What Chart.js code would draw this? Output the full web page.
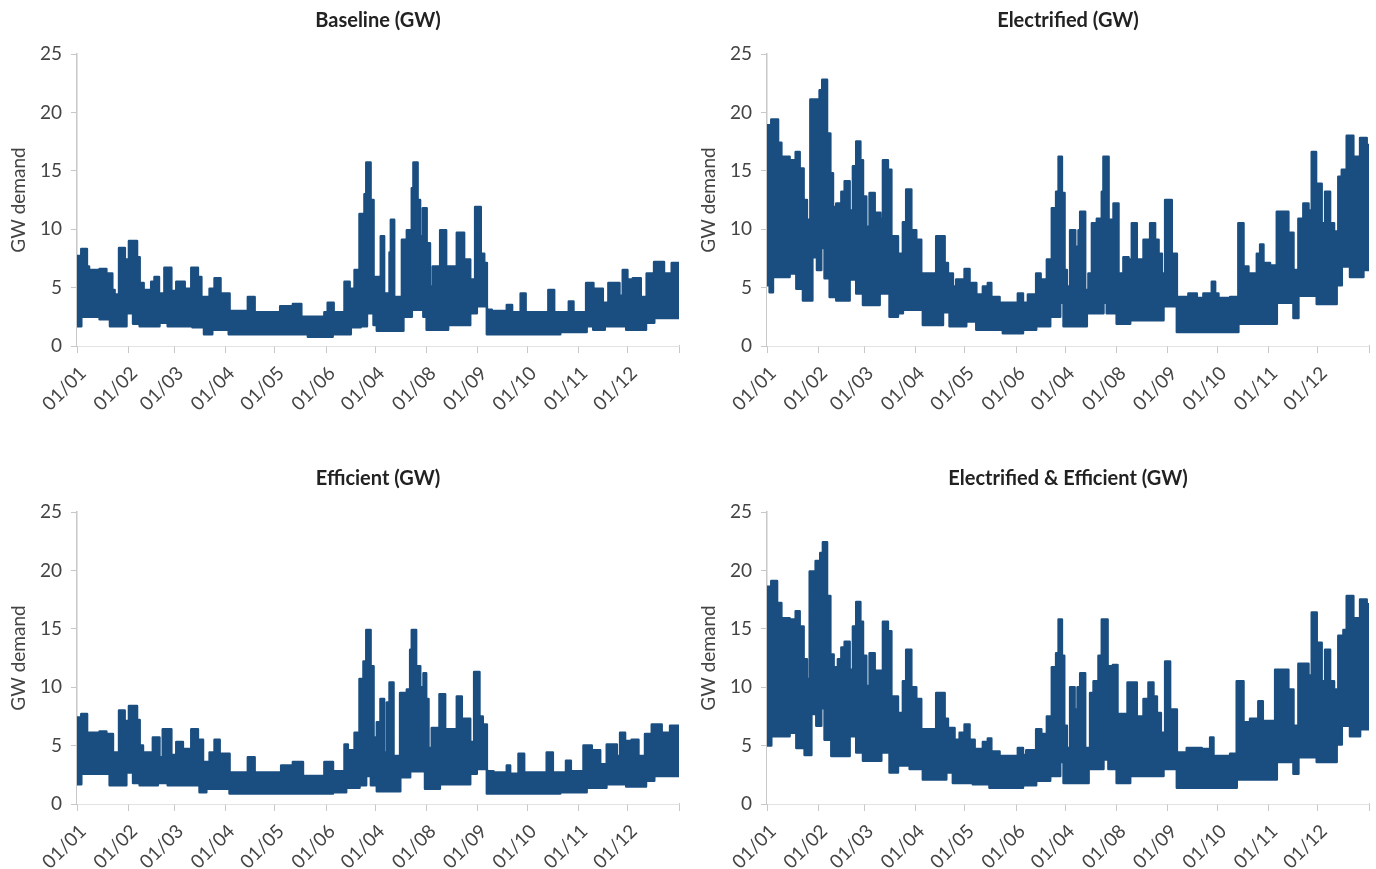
<!DOCTYPE html>
<html>
<head>
<meta charset="utf-8">
<script src="https://cdn.jsdelivr.net/npm/chart.js@4.4.1/dist/chart.umd.min.js"></script>
<style>
  body { margin: 0; background: #fff; width: 1376px; height: 869px; position: relative; overflow: hidden; }
  .panel { position: absolute; width: 688px; height: 426px; }
</style>
</head>
<body>
<div class="panel" style="left:0;top:0"><canvas id="baseline" width="688" height="426"></canvas></div>
<div class="panel" style="left:690px;top:0"><canvas id="electrified" width="688" height="426"></canvas></div>
<div class="panel" style="left:0;top:458px"><canvas id="efficient" width="688" height="426"></canvas></div>
<div class="panel" style="left:690px;top:458px"><canvas id="elecEff" width="688" height="426"></canvas></div>
<script>
// day of year where each month starts, and the labels printed under them
const monthStarts = [0, 31, 59, 90, 120, 151, 181, 212, 243, 273, 304, 334, 365];
const monthLabels = ['01/01', '01/02', '01/03', '01/04', '01/05', '01/06', '01/04', '01/08', '01/09', '01/10', '01/11', '01/12', ''];

// hourly demand shown as its daily high / low envelope: [day, GW]
// each value holds from its day until the next entry
const baselineHigh = [[0,7.7],[1.6,6.8],[2.6,8.3],[6,6.8],[7.3,6.5],[13.7,6.6],[17.8,6.2],[21.4,4.8],[22.8,4.4],[25.5,8.4],[29,7.4],[31.5,9.0],[36.4,7.6],[38,5.4],[40.4,4.8],[45,5.5],[47,5.9],[49.7,4.5],[53,6.7],[57.2,4.7],[60.2,5.5],[65.3,4.9],[69.3,6.7],[73.3,5.9],[75.4,4.2],[80.4,4.9],[83.4,5.8],[87,4.5],[92.5,3.0],[103.6,4.2],[107.7,2.9],[123.2,3.4],[130.9,3.6],[136,2.5],[150,2.9],[152,3.7],[155.6,2.9],[162.2,5.5],[165.3,4.9],[168.3,6.5],[171.3,11.3],[174.3,13.0],[175.4,15.7],[178,12.5],[179.8,5.9],[184.2,9.4],[186.2,4.5],[189.5,8.0],[190.3,10.8],[192.3,4.2],[197,9.1],[200,9.9],[203,13.5],[204,15.7],[206.5,12.5],[208,9.4],[209.7,11.8],[212,8.8],[214,5.1],[215.7,6.8],[220.2,9.9],[223.8,6.8],[230.3,9.7],[234.7,7.4],[238.4,5.7],[241.4,11.9],[244.8,7.9],[246.9,7.1],[248.5,3.1],[251.5,3.0],[260.6,3.5],[263.8,2.9],[269,4.5],[272,2.9],[285.8,4.8],[289.3,2.9],[298.2,3.8],[301,2.9],[308.7,5.4],[313.1,4.9],[318.8,3.7],[322.2,5.4],[328.9,4.3],[330.9,6.5],[333.7,5.7],[337,5.8],[341.8,4.2],[345.4,6.2],[349.9,7.2],[355.9,6.2],[360.6,7.1],[365,7.1]];
const baselineLow = [[0,1.7],[2.6,2.5],[13.7,2.3],[20,1.7],[30,2.8],[34,1.9],[38,1.7],[50,2.0],[55,1.7],[70,1.6],[77,1.0],[82,1.4],[92,1.0],[140,0.8],[155,1.0],[166,1.6],[172,1.7],[175.8,2.8],[179.8,1.8],[181.8,1.3],[197.9,2.5],[203,3.1],[210,2.5],[212,1.4],[225,1.8],[238.4,2.8],[242.4,3.4],[248.5,1.0],[293,1.2],[309,1.7],[313,1.4],[320,1.7],[333,1.4],[345,2.0],[350,2.4],[365,2.4]];

const electrifiedHigh = [[0,18.9],[2,16.2],[2.6,19.4],[6.7,17.4],[8.7,16.2],[13.7,15.9],[17.4,16.6],[19.8,15.2],[22.2,12.5],[24.2,10.8],[26.3,21.1],[31.9,21.9],[33.5,22.8],[36.4,18.2],[38.4,14.8],[40,11.9],[42,12.2],[45.1,13.2],[47.1,14.1],[50.1,11.6],[52.1,15.4],[54.1,17.5],[56.6,15.9],[58.2,12.8],[60.2,10.2],[62.2,13.1],[65.3,11.4],[68.7,10.9],[70.3,15.9],[73.3,15.1],[75.4,9.4],[79.4,7.9],[82.4,10.6],[84.4,13.4],[87.5,9.9],[90.5,9.1],[93.5,6.2],[102.6,9.4],[107.7,7.1],[109.7,6.2],[112.7,5.1],[114.7,5.7],[119.8,6.6],[122.8,5.4],[126.9,4.4],[130.9,5.1],[133.9,5.4],[136,4.2],[141,3.7],[152.1,4.5],[155.2,3.7],[158.2,4.4],[163.2,6.2],[165.9,5.7],[169.7,7.4],[172.7,11.8],[175.3,13.2],[176.8,16.2],[178.8,13.1],[180.4,6.5],[181.8,5.1],[183.8,9.9],[186.9,8.5],[188.9,9.9],[189.9,11.5],[192.9,4.8],[194.9,6.2],[197,10.5],[200,10.9],[203,13.2],[204,16.2],[207.1,10.8],[210.1,12.2],[213.1,6.2],[216.1,7.6],[219.2,7.4],[221.2,10.5],[224.2,7.4],[228.3,9.1],[232.3,10.5],[235.3,9.1],[237.4,7.9],[239.4,6.2],[241.4,12.5],[245.4,7.9],[248.5,4.2],[255.5,4.5],[260.6,4.1],[264.6,4.5],[269.7,5.5],[271.7,4.5],[273.7,4.1],[280.8,4.2],[285.8,10.5],[288.9,6.8],[291.9,6.2],[297,7.9],[299,8.7],[301,7.1],[305,6.9],[309.1,11.5],[316.1,9.7],[319.2,6.5],[322.2,10.9],[325.2,12.2],[328.3,11.6],[330.3,16.6],[332.9,13.9],[336.3,10.5],[338.4,13.2],[341.4,10.5],[343.8,9.8],[346.4,14.5],[348.5,15.1],[351.5,18.0],[355.5,16.2],[359.6,17.8],[363.6,17.2],[365,17.2]];
const electrifiedLow = [[0,5.2],[1.6,4.6],[3.6,5.9],[13.7,6.2],[17.8,4.9],[21.8,3.9],[27.5,7.6],[30.3,6.5],[32.9,8.4],[34.9,5.8],[38,4.2],[42,3.9],[50.1,5.7],[54.1,4.5],[58.2,3.5],[68.3,4.5],[74.3,2.5],[79.4,2.8],[82.4,3.1],[94.5,1.8],[106.7,2.9],[110.7,1.7],[120.8,2.1],[126.9,1.4],[143,1.1],[155.2,1.4],[163.2,1.7],[171.7,2.5],[177.8,3.7],[179.8,1.7],[193.9,2.8],[204,3.7],[206,2.8],[212,1.9],[220.2,2.2],[240.4,3.4],[248.5,1.2],[285.8,1.9],[309.1,3.7],[319.2,2.4],[322.2,4.3],[333.3,3.6],[345.4,5.2],[348.5,6.8],[353.5,5.9],[361.6,6.5],[365,6.5]];

const efficientHigh = [[0,7.4],[1.6,6.8],[2.6,7.7],[6.1,6.1],[13.7,6.2],[17.8,6.0],[21.8,4.4],[25.5,8.0],[28.9,7.1],[31.5,8.4],[36.4,7.2],[38,5.0],[40,4.4],[46,5.7],[50,4.0],[52,6.4],[57.2,4.2],[60.2,5.3],[64.2,4.7],[69.3,6.4],[73.3,5.5],[76.4,3.6],[80.4,4.4],[83.4,5.5],[86.5,4.3],[92.5,2.7],[103.6,4.0],[107.7,2.7],[123.8,3.3],[130.9,3.6],[137,2.4],[150,3.6],[155.2,2.8],[162.2,5.1],[164.2,4.6],[168.3,6.1],[171.3,10.7],[173.7,12.2],[175.4,14.9],[178,11.8],[179.8,5.7],[181.8,7.0],[184,9.0],[186.2,4.4],[187.9,8.7],[189.5,10.4],[191.9,4.1],[195.9,9.5],[200,9.8],[202,13.2],[203,14.9],[205.6,11.8],[208.1,10.0],[210.1,11.2],[211.7,9.0],[213.1,4.8],[215.1,6.5],[219.8,9.4],[223.2,6.4],[230.3,9.2],[233.3,7.3],[238.4,5.3],[240.8,11.3],[244,7.5],[246,6.8],[248.5,2.8],[252.5,2.7],[260.6,3.3],[262.6,2.6],[267.7,4.3],[271.1,2.7],[284.8,4.4],[288.5,2.7],[296.5,3.7],[299.4,2.8],[307.1,5.0],[312.1,4.6],[317.2,3.4],[321.2,5.1],[327.3,4.1],[329.3,6.1],[332.3,5.4],[336.3,5.5],[340.4,4.1],[344.4,6.0],[348.5,6.8],[354.5,6.1],[359.6,6.7],[365,6.7]];
const efficientLow = [[0,1.7],[2.6,2.6],[19.8,1.6],[29.9,2.7],[34,1.8],[38,1.6],[49,1.8],[55,1.6],[74.3,1.0],[78.4,1.3],[92.5,0.9],[155.2,1.0],[163.2,1.4],[171.3,1.6],[175.3,2.4],[178.2,1.6],[181.8,1.1],[196,2.3],[202,2.8],[211,1.3],[220,1.7],[238.4,2.6],[242.4,3.0],[248.5,0.9],[293,1.0],[309,1.4],[321,1.7],[333,1.5],[345,2.0],[350,2.4],[365,2.4]];

const elecEffHigh = [[0,18.6],[2,16.0],[2.6,19.1],[6.1,17.2],[8.7,15.9],[13.7,15.8],[17.4,16.5],[19.8,15.2],[22.2,12.4],[24.2,10.7],[25.9,19.9],[29.5,20.8],[32.3,21.5],[33.9,22.4],[36.4,17.8],[38.4,12.8],[40.4,11.7],[43,12.4],[45.1,13.4],[47.1,13.9],[50.1,11.5],[52.1,15.2],[54.1,17.3],[56.6,15.6],[58.2,12.7],[60.2,10.1],[62.2,12.9],[65.3,11.4],[70.3,15.6],[73.3,14.8],[75.4,9.2],[79.4,7.8],[82.4,10.5],[84.4,13.2],[87.5,10.0],[90.5,9.0],[93.5,6.4],[102.6,9.5],[107.7,7.3],[109.7,6.5],[113.7,5.5],[116.8,6.1],[119.8,6.8],[122.8,5.5],[125.9,4.7],[130.9,5.3],[133.9,5.6],[136,4.5],[141,4.1],[152.1,4.8],[155.2,4.2],[157.2,4.6],[163.2,6.4],[166.3,6.0],[169.7,7.5],[172.7,11.7],[175.3,12.9],[176.8,15.8],[178.8,12.7],[180.2,6.7],[181.8,4.8],[183.8,10.0],[186.5,8.1],[188.3,10.0],[189.9,11.2],[192.9,4.8],[195.9,9.5],[198,10.5],[201,12.7],[203,15.8],[206.5,11.8],[209.7,11.9],[212.5,7.7],[218.6,10.4],[224.2,7.5],[228.3,9.0],[231.3,10.4],[234.3,9.2],[236.4,7.8],[238.8,6.1],[241.4,12.2],[244.4,8.1],[248.5,4.4],[254.5,4.8],[263.6,4.7],[268.7,5.7],[270.7,4.1],[280.8,4.3],[284.8,10.5],[288.9,7.0],[292.9,7.3],[297.9,8.8],[300.6,7.1],[308.1,11.5],[316.1,9.8],[319.2,6.7],[322.2,12.0],[328.3,11.0],[330.3,16.4],[333.3,13.8],[336.3,10.5],[338.4,13.2],[341.4,10.5],[343.8,9.8],[346.4,14.4],[349.5,14.9],[351.5,17.8],[355.5,15.9],[359.6,17.5],[363.6,17.1],[365,17.1]];
const elecEffLow = [[0,5.0],[2.6,5.8],[13.7,6.1],[17.8,4.8],[22.8,4.2],[26.9,7.7],[29.9,6.7],[32.9,8.2],[34.9,5.5],[39,4.1],[50.1,5.8],[54.1,4.4],[58.2,3.7],[69.3,4.4],[74.3,2.7],[79.4,3.3],[86.5,3.0],[94.5,2.1],[108.7,2.7],[112.7,1.8],[124.8,1.7],[134.9,1.4],[155.2,1.6],[163.2,2.0],[171.7,2.4],[177.8,3.6],[179.8,1.8],[195,3.0],[204,3.8],[207,3.0],[212,1.8],[220.2,2.4],[240.4,3.0],[248.5,1.4],[284.8,2.1],[309.1,3.6],[319.2,2.6],[322.2,4.0],[333.3,3.6],[345.4,5.1],[348.5,6.7],[353.5,5.8],[359.6,6.4],[365,6.4]];

const BLUE = '#1a4e80';
const AXIS = '#c8c8c8';
const FONT = 'Lato, "Noto Sans", sans-serif';

function toPoints(pairs) {
    return pairs.map(([x, y]) => ({ x, y }));
}

function makeChart(id, title, high, low) {
    const ctx = document.getElementById(id).getContext('2d');
    const line = {
        borderColor: BLUE,
        borderWidth: 2.5,
        pointRadius: 0,
        // hold each value flat until the next entry, then step
        stepped: 'before',
        borderJoinStyle: 'round',
        borderCapStyle: 'round'
    };
    return new Chart(ctx, {
        type: 'line',
        data: {
            datasets: [
                // low envelope on top, blanking out the area under the band
                Object.assign({ label: 'low', data: toPoints(low), fill: 'origin', backgroundColor: '#ffffff' }, line),
                Object.assign({ label: 'high', data: toPoints(high), fill: 'origin', backgroundColor: BLUE }, line)
            ]
        },
        options: {
            responsive: false,
            animation: false,
            layout: { padding: { left: 0, right: 9, top: 0, bottom: 0 } },
            plugins: {
                legend: { display: false },
                tooltip: { enabled: false },
                title: {
                    display: true,
                    fullSize: false,
                    text: title,
                    color: '#222',
                    font: { family: FONT, size: 20, weight: 'bold' },
                    padding: { top: 9, bottom: 21 }
                }
            },
            scales: {
                x: {
                    type: 'linear',
                    min: 0,
                    max: 365,
                    z: 1,
                    afterBuildTicks: s => { s.ticks = monthStarts.map(v => ({ value: v })); },
                    afterFit: s => { s.height = 80; s.paddingLeft = 0; s.paddingRight = 0; },
                    grid: { display: true, drawOnChartArea: false, drawTicks: true, tickLength: 7, color: AXIS },
                    border: { color: AXIS, width: 1.5 },
                    ticks: {
                        autoSkip: false,
                        minRotation: 45,
                        maxRotation: 45,
                        padding: 9,
                        labelOffset: 6,
                        color: '#444',
                        font: { family: FONT, size: 19 },
                        callback: (v, i) => monthLabels[i]
                    }
                },
                y: {
                    min: 0,
                    max: 25,
                    z: 1,
                    afterFit: s => { s.width = 77; },
                    grid: { display: true, drawOnChartArea: false, drawTicks: true, tickLength: 6, color: AXIS },
                    border: { color: AXIS, width: 1.5 },
                    ticks: { stepSize: 5, padding: 9, color: '#444', font: { family: FONT, size: 19 } },
                    title: {
                        display: true,
                        text: 'GW demand',
                        color: '#444',
                        font: { family: FONT, size: 19 },
                        padding: { top: 7, bottom: 0 }
                    }
                }
            }
        }
    });
}

makeChart('baseline', 'Baseline (GW)', baselineHigh, baselineLow);
makeChart('electrified', 'Electrified (GW)', electrifiedHigh, electrifiedLow);
makeChart('efficient', 'Efficient (GW)', efficientHigh, efficientLow);
makeChart('elecEff', 'Electrified & Efficient (GW)', elecEffHigh, elecEffLow);
</script>
</body>
</html>
